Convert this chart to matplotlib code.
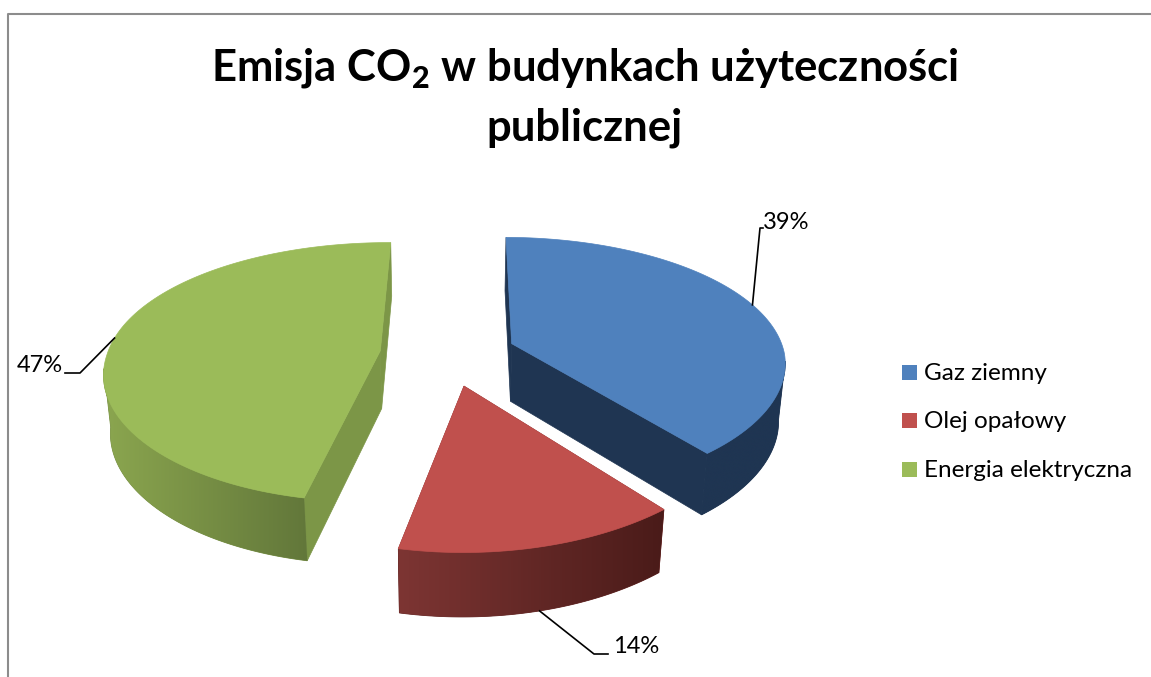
import numpy as np
import matplotlib
matplotlib.use("Agg")
import matplotlib.pyplot as plt
from matplotlib.colors import to_rgb
from matplotlib.patches import Polygon, Rectangle

plt.rcParams['font.family'] = ['Lato', 'DejaVu Sans']
plt.rcParams['mathtext.fontset'] = 'custom'
plt.rcParams['mathtext.rm'] = 'Lato:bold'
plt.rcParams['mathtext.bf'] = 'Lato:black'

categories = ['Gaz ziemny', 'Olej opałowy', 'Energia elektryczna']
shares = [39, 14, 47]
share_labels = ['39%', '14%', '47%']
top_colors = ['#4f81bd', '#c0504d', '#9bbb59']
# wall shading: left end, right end
wall_colors = [('#1f3552', '#1f3552'), ('#7d3533', '#4a1b19'), ('#8ba64f', '#62773a')]
inner_colors = ['#1f3552', '#7f3533', '#7c9647']

# perspective model of the pie, in pixels
CX, CY = 448, 354
A, B = 273, 127
KX, KY, KZ = 0.14, 0.165, 0.08
DEPTH, SHRINK = 58, 0.02
SKEW = 4.0
EXPLODE = 0.25
FIRST_ANGLE = 0.5
# the wall is seen from this rim angle on (silhouette of the pie)
WALL_FROM = 98.0


def project(u, v, z=0.0):
    x = CX + A * u / (1 - KX * v + SHRINK * z) - SKEW * np.maximum(v, 0)
    y = CY + B * v / (1 - KY * v) + DEPTH * z / (1 - KZ * v)
    return x, y


def rim(start, end, off, z=0.0, n=120):
    t = np.radians(np.linspace(start, end, n))
    return project(off[0] + np.sin(t), off[1] - np.cos(t), z)


fig = plt.figure(figsize=(11.51, 6.77), dpi=100)
ax = fig.add_axes([0, 0, 1, 1])

# chart frame
ax.plot([8, 8, 1151], [677, 14, 14], color='#8c8c8c', lw=1.5, zorder=1)

edges = np.cumsum([0] + shares) * 3.6 + FIRST_ANGLE
wedges = []
for i, s in enumerate(shares):
    mid = np.radians((edges[i] + edges[i + 1]) / 2)
    wedges.append((i, edges[i], edges[i + 1], mid,
                   (EXPLODE * np.sin(mid), -EXPLODE * np.cos(mid))))

# back to front so the red wedge ends on top
for i, a0, a1, mid, off in sorted(wedges, key=lambda w: w[4][1]):
    z0 = 5 + 4 * i
    # inner faces
    for ang in (a0, a1):
        t = np.radians(ang)
        u = off[0] + np.sin(t)
        v = off[1] - np.cos(t)
        corners = [project(off[0], off[1]), project(u, v), project(u, v, 1), project(off[0], off[1], 1)]
        ax.add_patch(Polygon(corners, fc=inner_colors[i], ec=inner_colors[i], lw=0.5, zorder=z0))
    # outer wall, only the part facing the viewer, shaded from left to right
    w0 = max(a0, WALL_FROM)
    w1 = min(a1, 360 - WALL_FROM)
    x_a, y_a = rim(w0, w1, off, 0)
    x_b, y_b = rim(w0, w1, off, 1)
    outline = np.c_[np.r_[x_a, x_b[::-1]], np.r_[y_a, y_b[::-1]]]
    c0, c1 = np.array(to_rgb(wall_colors[i][0])), np.array(to_rgb(wall_colors[i][1]))
    base = (c0 + c1) / 2
    ax.add_patch(Polygon(outline, fc=base, ec=base, lw=0.6, zorder=z0 + 0.5))
    shade = (c0 + (c1 - c0) * np.linspace(0, 1, 256)[:, None])[None, :, :]
    im = ax.imshow(shade, extent=(outline[:, 0].min(), outline[:, 0].max(), outline[:, 1].max(), outline[:, 1].min()),
                   aspect='auto', interpolation='bilinear', zorder=z0 + 1)
    im.set_clip_path(Polygon(outline, transform=ax.transData))
    # top face
    xr, yr = rim(a0, a1, off)
    ax_, ay_ = project(off[0], off[1])
    ax.add_patch(Polygon(np.c_[np.r_[ax_, xr], np.r_[ay_, yr]], fc=top_colors[i],
                         ec=top_colors[i], lw=0.5, zorder=z0 + 2))

# leader lines start on the rim of each wedge
elbows = [((760, 228), (763, 228)), ((594, 654), (608, 654)), ((80, 373), (65, 373))]
label_pos = [(763, 229), (613, 653), (63, 372)]
aligns = ['left', 'left', 'right']
for (i, a0, a1, mid, off), elbow, pos, ha in zip(wedges, elbows, label_pos, aligns):
    z = 1 if i == 1 else 0
    sx, sy = project(off[0] + np.sin(mid), off[1] - np.cos(mid), z)
    ax.plot([sx, elbow[0][0], elbow[1][0]], [sy, elbow[0][1], elbow[1][1]], color='black', lw=1.2, zorder=30)
    ax.text(pos[0], pos[1], share_labels[i], fontsize=17, ha=ha, va='baseline', color='black', zorder=31)

# legend
for i, (name, y) in enumerate(zip(categories, [380, 428, 477])):
    ax.add_patch(Rectangle((902, y - 15), 15, 15, fc=top_colors[i], ec='none', zorder=30))
    ax.text(924, y, name, fontsize=17.5, ha='left', va='baseline', color='black', zorder=31)

ax.text(585, 97, 'Emisja CO$_{\\mathbf{2}}$ w budynkach użyteczności\npublicznej', fontsize=31.4,
        fontweight='bold', ha='center', va='center', color='black', linespacing=1.55, zorder=31)

ax.set_xlim(0, 1151)
ax.set_ylim(677, 0)
ax.axis('off')

fig.savefig('out.png', dpi=100)
